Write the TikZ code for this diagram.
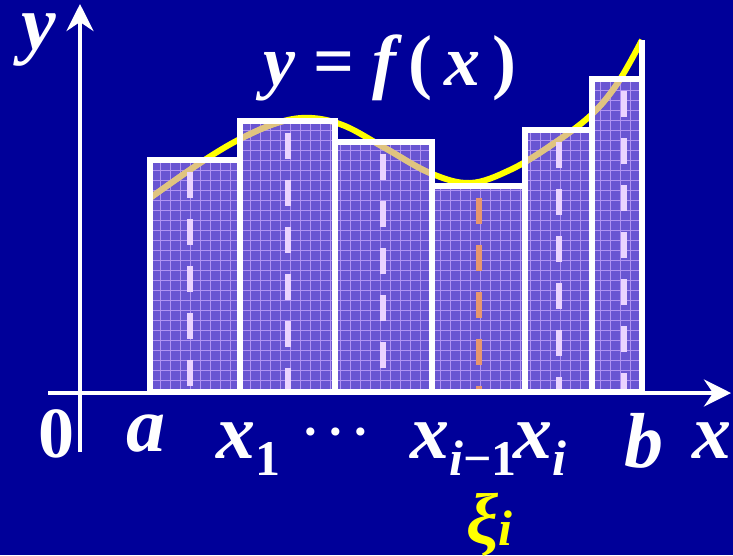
\documentclass[tikz,border=0pt]{standalone}
\usepackage{fontspec}
\setmainfont{Liberation Serif}
\usetikzlibrary{arrows.meta}
\definecolor{deepblue}{RGB}{0,0,153}
\definecolor{barfill}{RGB}{175,142,248}
\definecolor{gridlilac}{RGB}{200,170,255}
\definecolor{dashlilac}{RGB}{235,212,255}
\definecolor{dashorange}{RGB}{232,150,110}
\definecolor{curveyellow}{RGB}{255,255,0}
\definecolor{curvetan}{RGB}{226,198,125}
\newcommand{\lowidx}[2][-0.22em]{\raisebox{#1}{\fontsize{50}{52}\selectfont #2}}

\begin{document}
\begin{tikzpicture}[x=1pt, y=-1pt,
    axis/.style={draw=white, line width=4pt, -{Stealth[length=27pt, width=27pt, inset=9pt]}},
    bar/.style={fill=barfill, fill opacity=0.6},
    barline/.style={draw=white, line width=5.5pt, line join=miter},
    gridline/.style={draw=gridlilac, line width=0.8pt, opacity=0.75},
    dashbar/.style={line width=6pt, dash pattern=on 26pt off 21pt},
    curve/.style={draw=curveyellow, line width=6pt},
    lbl/.style={text=white, inner sep=0pt, font=\bfseries\itshape\fontsize{78}{80}\selectfont},
    title/.style={text=white, inner sep=0pt, font=\bfseries\fontsize{72}{74}\selectfont}
  ]
  \fill[deepblue] (0,0) rectangle (733,555);
  \useasboundingbox (0,0) rectangle (733,555);

  \coordinate (xstart) at (48,393);
  \coordinate (xend) at (731,393);
  \coordinate (ystart) at (80,452);
  \coordinate (yend) at (80,4);
  \coordinate (fb) at (642,40);
  \coordinate (rb) at (642,80);

  \def\fcurve{plot[smooth, tension=0.6] coordinates {(150,198) (200,163) (240,139) (280,122) (312,118) (345,126) (385,148) (430,173) (470,183) (510,170) (550,146) (590,116) (617,84) (642,40)}}
  \draw[curve] \fcurve;

  \fill[bar] (150,160) rectangle (240,392);
  \fill[bar] (240,121) rectangle (335,392);
  \fill[bar] (335,142) rectangle (432,392);
  \fill[bar] (432,186) rectangle (525,392);
  \fill[bar] (525,130) rectangle (592,392);
  \fill[bar] (592,79) rectangle (642,392);

  \begin{scope}
    \clip (150,160) rectangle (240,392) (240,121) rectangle (335,392)
          (335,142) rectangle (432,392) (432,186) rectangle (525,392)
          (525,130) rectangle (592,392) (592,79) rectangle (642,392);
    \draw[gridline] (140,400) grid[step=10pt] (650,70);
    \draw[curve, draw=curvetan, opacity=0.9] \fcurve;
  \end{scope}

  \draw[dashbar, dashlilac] (190,172) -- (190,392);
  \draw[dashbar, dashlilac] (288,133) -- (288,392);
  \draw[dashbar, dashlilac] (383,154) -- (383,392);
  \draw[dashbar, dashorange] (479,198) -- (479,392);
  \draw[dashbar, dashlilac] (559,142) -- (559,392);
  \draw[dashbar, dashlilac] (624,91) -- (624,392);

  \draw[barline] (150,160) rectangle (240,392);
  \draw[barline] (240,121) rectangle (335,392);
  \draw[barline] (335,142) rectangle (432,392);
  \draw[barline] (432,186) rectangle (525,392);
  \draw[barline] (525,130) rectangle (592,392);
  \draw[barline] (592,79) rectangle (642,392);
  \draw[barline] (fb) -- (rb);

  \draw[axis] (xstart) -- (xend);
  \draw[axis] (ystart) -- (yend);

  \node[lbl, anchor=base west] (ylab) at (21,49) {y};
  \node[lbl] (xlab) at (712,441) {x};
  \node[title] (zero) at (56,434) {0};
  \node[lbl] (alab) at (146,434) {a};
  \node[lbl, anchor=base west] (x1lab) at (216,458) {x\lowidx{\upshape 1}};
  \node[lbl, font=\bfseries\fontsize{50}{52}\selectfont] (dots) at (336,438) {·\,·\,·};
  \node[lbl, anchor=base west] (ximlab) at (410,458) {x\lowidx{i{\upshape −1}}};
  \node[lbl, anchor=base west] (xilab) at (513,458) {x\lowidx{i}};
  \node[lbl] (blab) at (644,441) {b};
  \node[lbl, text=curveyellow, anchor=base west, font=\bfseries\itshape\fontsize{72}{74}\selectfont] (xilabel) at (466,543) {ξ\lowidx[-0.03em]{i}};
  \node[title, anchor=base] (fx) at (390,85) {\itshape y \upshape= \itshape f\,\upshape(\,\itshape x\,\upshape)};
\end{tikzpicture}
\end{document}
